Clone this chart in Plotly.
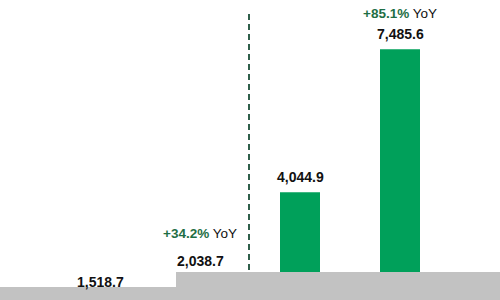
import plotly.graph_objects as go

categories = ["P1", "P2", "P3", "P4"]
values = [1518.7, 2038.7, 4044.9, 7485.6]
value_labels = ["1,518.7", "2,038.7", "4,044.9", "7,485.6"]
yoy_index = [1, 3]
yoy_growth = ["+34.2%", "+85.1%"]

BAR = "#00a05a"
fig = go.Figure()
fig.add_trace(go.Bar(x=categories, y=values, width=0.4,
                     marker=dict(color=BAR, line=dict(width=0)),
                     hoverinfo="skip"))

annotations = []
for c, v, lab in zip(categories, values, value_labels):
    annotations.append(dict(x=c, y=v, xref="x", yref="y", text="<b>%s</b>" % lab,
                            showarrow=False, yanchor="bottom", yshift=5,
                            font=dict(family="Liberation Sans, Arial", size=14, color="#111111")))
yshifts = [33, 26]
for i, g, ys in zip(yoy_index, yoy_growth, yshifts):
    annotations.append(dict(x=categories[i], y=values[i], xref="x", yref="y",
                            text="<b><span style='color:#1e6e45'>%s</span></b> YoY" % g,
                            showarrow=False, yanchor="bottom", yshift=ys,
                            font=dict(family="Liberation Sans, Arial", size=13.5, color="#111111")))

shapes = [
    dict(type="line", xref="x", yref="paper", x0=1.49, x1=1.49, y0=0.0, y1=0.96,
         line=dict(color="#2f5f4a", width=2, dash="6px,4px"), layer="above"),
    dict(type="rect", xref="paper", yref="paper", x0=0.352, x1=1.0, y0=0, y1=1 - 272 / 300,
         fillcolor="#c2c2c2", line=dict(width=0), layer="above"),
    dict(type="rect", xref="paper", yref="paper", x0=0, x1=0.352, y0=0, y1=1 - 287 / 300,
         fillcolor="#c2c2c2", line=dict(width=0), layer="above"),
]

fig.update_layout(
    width=500, height=300, margin=dict(l=0, r=0, t=0, b=0),
    paper_bgcolor="white", plot_bgcolor="white", showlegend=False,
    xaxis=dict(range=[-1, 4], visible=False, type="category"),
    yaxis=dict(range=[1453, 8672], visible=False),
    annotations=annotations, shapes=shapes,
)
fig.write_html("out.html")
